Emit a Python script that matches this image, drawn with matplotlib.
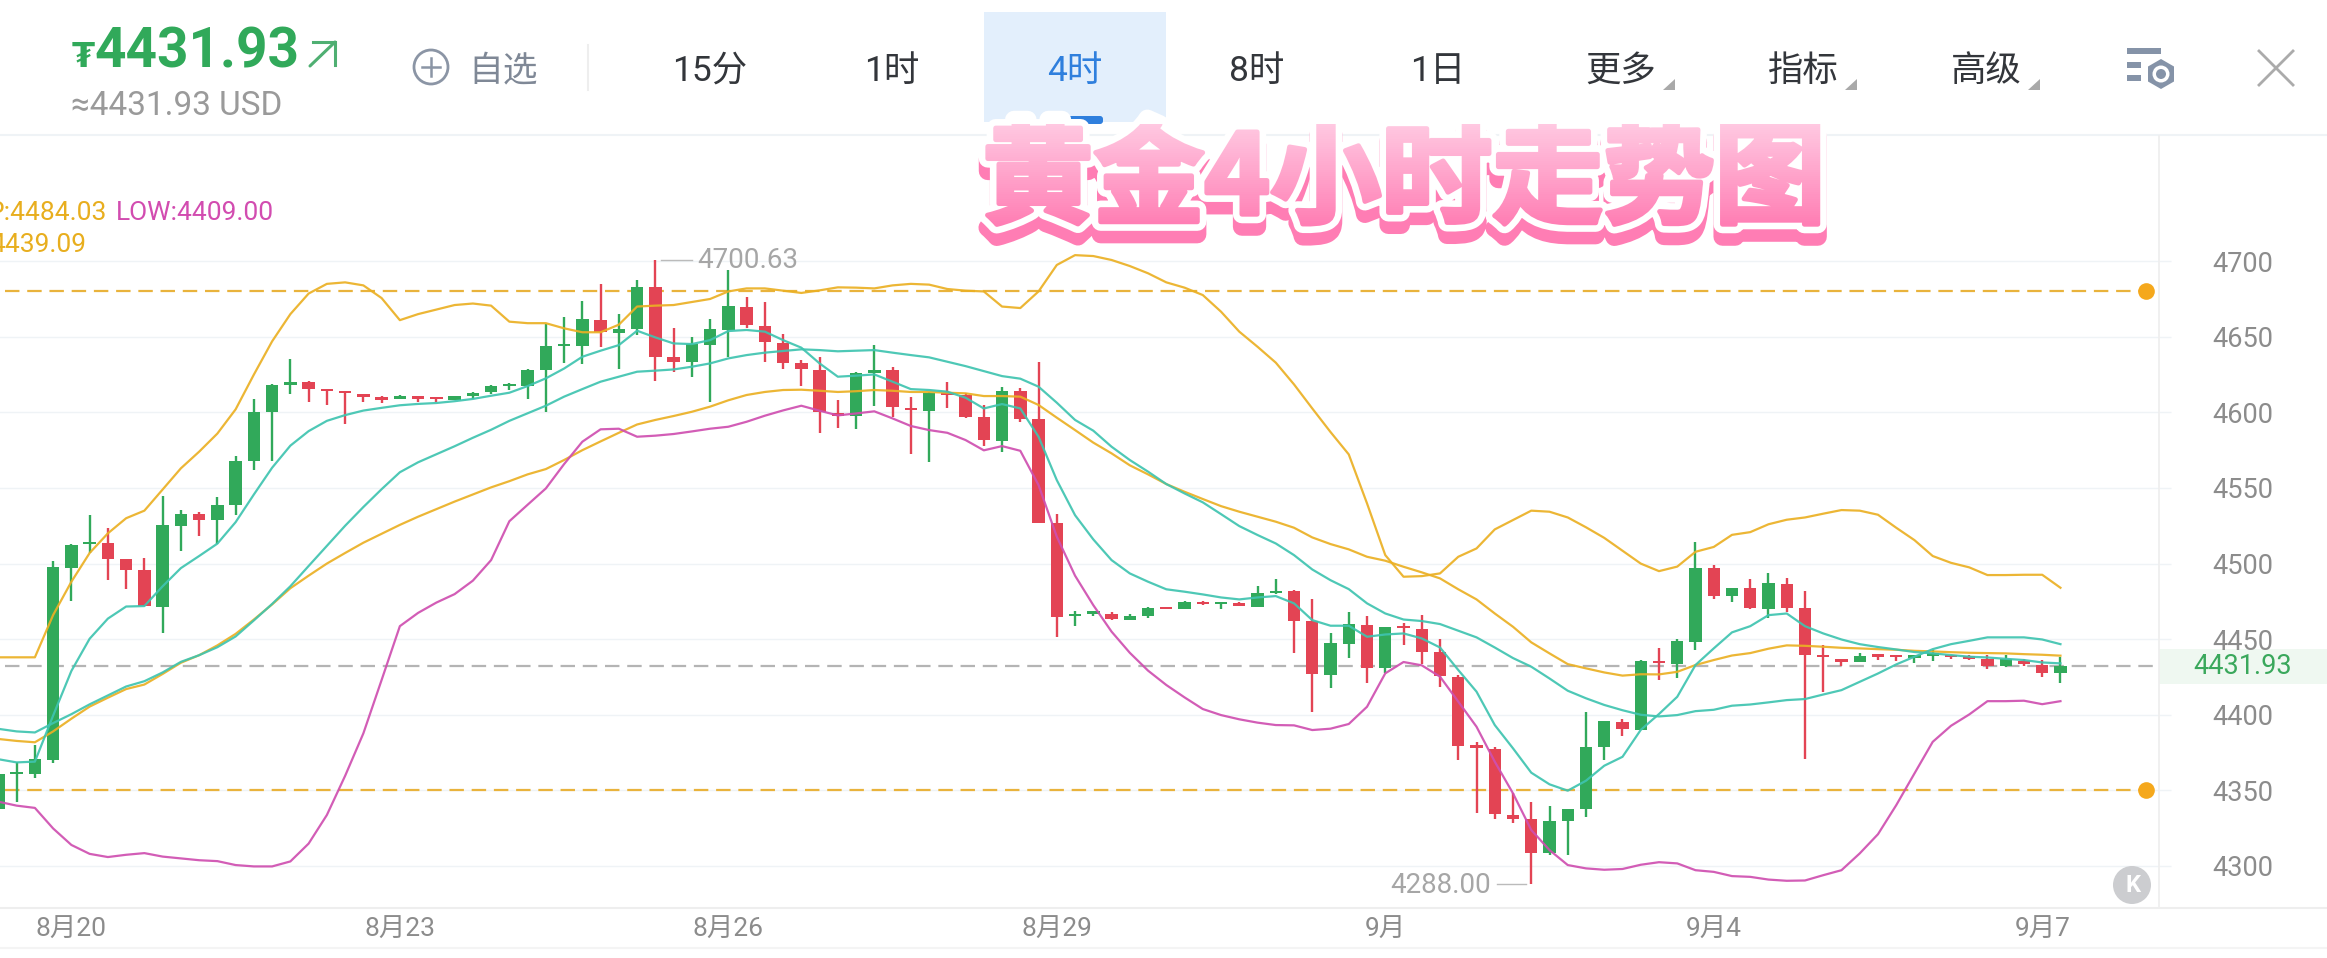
import numpy as np
import matplotlib
matplotlib.use('Agg')
import matplotlib.pyplot as plt
import matplotlib.patheffects as pe
from matplotlib.patches import Circle, Polygon, Rectangle, RegularPolygon, FancyBboxPatch
from matplotlib.transforms import Bbox

plt.rcParams['font.family'] = ['Roboto', 'Noto Sans CJK SC', 'DejaVu Sans']

# 4h candles
opens = [4338, 4360.8, 4361, 4370, 4497, 4513, 4513.8, 4503, 4495.8, 4471.6,
         4525, 4532.7, 4529, 4538.6, 4567.8, 4600, 4618, 4620, 4615, 4613.6,
         4612, 4609, 4609, 4609.3, 4609, 4608.3, 4610.6, 4613.6, 4617.5, 4617.4,
         4628, 4643.9, 4644, 4661, 4652.7, 4655, 4682.7, 4636.4, 4633, 4644.8,
         4654.5, 4670, 4657.3, 4646, 4632.4, 4628.2, 4599.3, 4597.6, 4625.8, 4628,
         4603, 4601, 4613, 4611.5, 4597, 4581.3, 4614, 4595.4, 4527, 4465,
         4466.8, 4466.9, 4463, 4465.3, 4470.4, 4470, 4474, 4473.3, 4473.3, 4471.5,
         4480.3, 4481.9, 4461.8, 4426.5, 4446.8, 4459.4, 4430.7, 4457.6, 4456.7, 4441.3,
         4425.2, 4378.9, 4377.6, 4333.7, 4330.8, 4308.3, 4329.7, 4337.4, 4378.4, 4395.4,
         4389.9, 4435.3, 4433.5, 4448.3, 4496.8, 4478.5, 4483.6, 4469.9, 4486.7, 4470.3,
         4439.2, 4437, 4435, 4438.8, 4438.4, 4437.7, 4439, 4438.4, 4437.9, 4436.6,
         4432.4, 4435.7, 4433.1, 4427.8]
closes = [4361, 4361.4, 4370.6, 4497.5, 4512.6, 4514, 4503, 4496, 4472, 4525.6,
          4533, 4529, 4538.6, 4567.8, 4600.3, 4618, 4620.4, 4615.7, 4614, 4612.7,
          4610, 4608.5, 4610, 4609, 4608.6, 4610.6, 4613, 4617.4, 4618, 4627.8,
          4644, 4644.3, 4661.5, 4653.4, 4655, 4683, 4636.8, 4633, 4645, 4655,
          4670.3, 4657.6, 4646.7, 4632.9, 4628.9, 4600.4, 4597.4, 4626.2, 4628, 4603.8,
          4601.5, 4613, 4611.5, 4597, 4581.7, 4614.3, 4595.6, 4527, 4464.6, 4465.6,
          4467.3, 4463.3, 4465.3, 4470.6, 4470, 4474.4, 4473.3, 4474, 4472, 4480.3,
          4482, 4462.2, 4426.7, 4447.2, 4459.8, 4430.7, 4457.8, 4457.2, 4441.5, 4425.6,
          4379.3, 4378.2, 4334.3, 4331.3, 4308.8, 4329.9, 4337.7, 4378.4, 4395.6, 4390.6,
          4435.7, 4434, 4448.7, 4497, 4478.7, 4483.8, 4470.3, 4486.9, 4470.3, 4439.5,
          4437.9, 4435, 4439, 4438.4, 4437.9, 4438, 4439.5, 4437.9, 4437, 4432.4,
          4436.6, 4433.5, 4427.8, 4431.93]
highs = [4361.5, 4369, 4379.7, 4502, 4512.8, 4532, 4523.5, 4503.2, 4503.7, 4544.8,
         4535.6, 4534, 4544, 4571, 4609, 4619, 4635.4, 4621, 4615.2, 4613.8,
         4612.2, 4610.6, 4611.5, 4611, 4610, 4611, 4613.5, 4618, 4619.5, 4628.7,
         4658.4, 4662.8, 4673.9, 4684.7, 4665, 4687.5, 4700.63, 4656, 4649.6, 4661.5,
         4694, 4676.5, 4673, 4652, 4634.6, 4636.4, 4608, 4627, 4644.5, 4629.8,
         4610, 4613.7, 4620.3, 4613, 4605, 4616.5, 4616.3, 4633, 4532.7, 4468.8,
         4468, 4467.7, 4466.9, 4471, 4471.3, 4475, 4475, 4474.2, 4474.4, 4485,
         4489.6, 4482.2, 4476.6, 4453.9, 4467.7, 4465.3, 4458, 4460.5, 4465.8, 4450.1,
         4426, 4382.2, 4378.9, 4348.5, 4342.5, 4339.9, 4338, 4401.6, 4396, 4397.2,
         4436.5, 4444.3, 4449.8, 4514.4, 4498.8, 4484, 4490, 4493.7, 4490.2, 4482,
         4446, 4437.2, 4440.6, 4439, 4438.6, 4439.5, 4442.8, 4439.5, 4439.5, 4439.5,
         4439.5, 4436.6, 4436.2, 4438]
lows = [4336, 4342, 4358.5, 4368, 4475, 4507, 4489, 4483, 4471.8, 4454,
        4508, 4518.5, 4513, 4532, 4562, 4568, 4612.4, 4607, 4605, 4592,
        4607, 4606, 4608.8, 4607, 4607, 4608, 4609, 4612, 4614.5, 4609,
        4600, 4632.9, 4632, 4643.4, 4629, 4651, 4621, 4627, 4623.6, 4607,
        4636.4, 4656, 4633.5, 4628.4, 4617.6, 4586.5, 4589.4, 4588.8, 4604.4, 4596.7,
        4572.2, 4567.4, 4603, 4596.5, 4577.7, 4574, 4593.8, 4526.6, 4451.6, 4459,
        4465, 4463, 4463, 4463.8, 4470, 4470, 4472.6, 4470, 4471.7, 4471,
        4480, 4440.6, 4401.6, 4417.9, 4437.8, 4421.2, 4427.4, 4446.1, 4433.6, 4418.6,
        4370.1, 4335.2, 4330.8, 4328.2, 4288.0, 4307.2, 4307, 4332.6, 4370.1, 4386,
        4389.9, 4423, 4424, 4442.8, 4476.3, 4474.7, 4469.9, 4463.7, 4468.1, 4370.5,
        4415.2, 4432, 4435, 4436, 4435.7, 4434.4, 4435.7, 4436.6, 4436, 4430.6,
        4431.7, 4432, 4425.1, 4420.7]

# bands and averages, one value per candle
gold_upper = [4438, 4438, 4438, 4466, 4488, 4507, 4520, 4530, 4535, 4549,
              4563, 4574, 4586, 4602, 4625, 4647, 4665, 4678.6, 4685, 4686,
              4684, 4675.6, 4661, 4665, 4668, 4671, 4672, 4670.6, 4660, 4659,
              4659, 4655.6, 4653, 4653, 4658, 4670, 4670.6, 4671, 4673, 4675,
              4680, 4682, 4682, 4680.5, 4679, 4680.7, 4682.7, 4682.5, 4682, 4684,
              4685, 4684.5, 4681.6, 4680.5, 4680, 4670, 4669, 4680, 4697.5, 4704,
              4703.4, 4700.8, 4696.8, 4692, 4686, 4682.5, 4677.6, 4666.6, 4653.4, 4643.4,
              4632.9, 4618.5, 4602.6, 4587, 4572.2, 4539.8, 4505.6, 4491.3, 4491.7, 4493.5,
              4504.5, 4510, 4522.6, 4528.8, 4535, 4534.3, 4530.5, 4524, 4517, 4508.5,
              4500, 4495, 4498, 4507.8, 4511, 4519, 4520.8, 4526, 4529, 4530.5,
              4533, 4535.4, 4535, 4532.3, 4523.7, 4515.5, 4505, 4500.5, 4497.5, 4492.4,
              4492.4, 4492.6, 4492.6, 4484]
gold_slow = [4384, 4382.7, 4381.8, 4389, 4397.4, 4405.4, 4411.3, 4417, 4420, 4427,
             4434.4, 4439.4, 4445.9, 4453.5, 4463, 4473, 4483.7, 4492, 4500, 4507,
             4513.8, 4519.7, 4525.6, 4531, 4536, 4541, 4545.7, 4550.4, 4554.5, 4559,
             4562.5, 4568.5, 4575, 4580.8, 4586.5, 4592, 4595, 4597.6, 4600.4, 4603.8,
             4608, 4611.5, 4613.5, 4614.8, 4615, 4614.3, 4613.5, 4614, 4614.8, 4614.3,
             4613.5, 4613.5, 4613, 4612.6, 4610.8, 4610.8, 4610.4, 4604.9, 4596.5, 4588.3,
             4580, 4572.9, 4565, 4559, 4552.6, 4547.5, 4542.7, 4538, 4534.3, 4531,
             4527.7, 4523.7, 4517.3, 4512.9, 4509.4, 4504.5, 4501.9, 4497.9, 4494.2, 4490.2,
             4483, 4476.3, 4467, 4458.2, 4447.9, 4440.6, 4433.5, 4430.7, 4428, 4425.9,
             4426.8, 4426.7, 4428.4, 4432.9, 4436.2, 4439.2, 4440.8, 4443.7, 4445.9, 4445.6,
             4445, 4444.3, 4443.9, 4443.4, 4443, 4442.3, 4441.9, 4441.4, 4441, 4440.8,
             4440.6, 4440.1, 4439.7, 4439.09]
teal_slow = [4390.7, 4389, 4388.3, 4394.5, 4400.4, 4406.9, 4412.8, 4418.7, 4422.2, 4428,
             4435, 4439.4, 4444.7, 4451.8, 4462.4, 4473.3, 4485, 4498.4, 4511.7, 4525,
             4537.4, 4549.2, 4560.4, 4567, 4572.3, 4577.6, 4583.2, 4588.5, 4594.4, 4599.4,
             4604.4, 4610.4, 4615.4, 4620.3, 4623.6, 4626.9, 4627.6, 4628.4, 4630.2, 4632.4,
             4635.7, 4637.9, 4639.5, 4640.6, 4641.7, 4641.2, 4640.4, 4640.8, 4641.2, 4639.5,
             4637.9, 4636.4, 4633.5, 4630.6, 4627.3, 4624, 4622.3, 4617, 4606.4, 4595,
             4587.9, 4577.3, 4568.5, 4560.8, 4552.6, 4546.4, 4540.5, 4532.7, 4524.8, 4518.9,
             4513.3, 4505.6, 4496.1, 4489, 4483.1, 4473.7, 4467, 4463, 4462, 4460,
             4455.6, 4451.2, 4444.5, 4437.5, 4431.8, 4424, 4415.9, 4410.9, 4406.5, 4403,
             4400, 4398.9, 4399.8, 4402.4, 4403.3, 4406, 4406.8, 4408.2, 4409.7, 4410.4,
             4413.4, 4416.3, 4421.8, 4427.3, 4433.3, 4438.4, 4443.4, 4446.7, 4448.9, 4451.2,
             4451.2, 4451.2, 4449.8, 4446.7]
teal_fast = [4370.6, 4368.5, 4369, 4399.5, 4429, 4450.3, 4463.6, 4471.6, 4471.9, 4485,
             4497, 4505, 4513.2, 4527.4, 4545.7, 4563.4, 4578, 4587.6, 4594.4, 4598.2,
             4601.2, 4603, 4604.7, 4605.6, 4606.2, 4607.4, 4608.9, 4611, 4613, 4617.4,
             4622.5, 4629, 4636.8, 4640.8, 4644.5, 4654, 4649.6, 4645.6, 4645.2, 4647.8,
             4653.8, 4654.5, 4653.4, 4647.8, 4642.8, 4632.4, 4623.6, 4624.3, 4625.1, 4620.3,
             4615.4, 4614.8, 4613.7, 4609.7, 4602.6, 4605.5, 4602.6, 4583.9, 4555.2, 4532,
             4516, 4502.3, 4493.5, 4488, 4483, 4481.4, 4479.6, 4477.6, 4476.3, 4477.6,
             4478.5, 4473.7, 4462.6, 4458.9, 4458.9, 4451.6, 4453.1, 4453.8, 4450.5, 4444.5,
             4429.6, 4415.3, 4393.2, 4377.8, 4361.7, 4354, 4349.8, 4356.4, 4366.3, 4372.2,
             4390, 4400.5, 4411.9, 4432.9, 4443.9, 4454.5, 4458.6, 4465.9, 4467, 4458.6,
             4453.8, 4449.8, 4446.7, 4444.8, 4443.2, 4441.5, 4440.6, 4439.5, 4438.4, 4437.9,
             4437, 4436.2, 4434.6, 4434]
magenta_low = [4342.5, 4339.9, 4338.4, 4324.8, 4313.9, 4308, 4305.9, 4307.4, 4308.5, 4306.2,
               4305, 4303.8, 4303.2, 4300.6, 4299.7, 4299.7, 4303, 4314.8, 4333.7, 4359.6,
               4387.7, 4423, 4458.6, 4467.4, 4474.2, 4479.8, 4488.7, 4502.3, 4528, 4538.9,
               4549.7, 4565.8, 4580.6, 4588.8, 4589.2, 4583.9, 4584.6, 4585.7, 4587.4, 4589.2,
               4590.5, 4593.8, 4597.8, 4601.3, 4604.4, 4601.1, 4598, 4599.3, 4600.7, 4596,
               4591, 4588.3, 4586.5, 4581.7, 4574.9, 4577.7, 4574.6, 4551.9, 4517.8, 4492,
               4472.5, 4455, 4441, 4429.2, 4419.7, 4411.5, 4403.8, 4399.8, 4397, 4394.8,
               4393.2, 4393, 4389.9, 4390.8, 4393.9, 4405.3, 4427.4, 4434.9, 4432.7, 4425.2,
               4408.7, 4392.1, 4369, 4348, 4323.8, 4310.5, 4300.6, 4298.4, 4297.5, 4298,
               4300.8, 4302.5, 4301.7, 4297.2, 4296.1, 4293.3, 4292.8, 4291, 4290.2, 4290.4,
               4293.9, 4297.2, 4308.3, 4321, 4340.2, 4361.2, 4382.1, 4392.7, 4400.2, 4409,
               4409, 4409.3, 4407, 4409]

price_ticks = [4300, 4350, 4400, 4450, 4500, 4550, 4600, 4650, 4700]
date_pos = [4, 22, 40, 58, 76, 94, 112]
date_labels = ['8月20', '8月23', '8月26', '8月29', '9月', '9月4', '9月7']
level_lines = [4680, 4350]
last_price = 4431.93
max_idx, max_price = 36, 4700.63
min_idx, min_price = 84, 4288.00

period_labels = ['15分', '1时', '4时', '8时', '1日', '更多', '指标', '高级']
period_x = [710, 892, 1075, 1257, 1438, 1621, 1803, 1986]

GREEN = '#31A95A'
RED = '#E34454'
GOLD = '#EBB024'
TEAL = '#3FC4B0'
MAGENTA = '#CF4FB0'
GRID = '#EFF3F6'
AXIS = '#8C8C8C'


class GradientFill(pe.AbstractPathEffect):
    """fill glyphs in thin horizontal strips, top colour to bottom colour"""

    def __init__(self, top, bottom, y0, y1, fatten=0, bands=56):
        super().__init__()
        self.top = np.array(matplotlib.colors.to_rgb(top))
        self.bottom = np.array(matplotlib.colors.to_rgb(bottom))
        self.y0, self.y1, self.fatten, self.bands = y0, y1, fatten, bands

    def draw_path(self, renderer, gc, tpath, affine, rgbFace=None):
        edges = np.linspace(self.y0, self.y1, self.bands + 1)
        for i in range(self.bands):
            col = tuple(self.bottom + (self.top - self.bottom) * i / (self.bands - 1))
            gc0 = renderer.new_gc()
            gc0.copy_properties(gc)
            gc0.set_clip_rectangle(Bbox([[0, edges[i]], [3000, edges[i + 1]]]))
            gc0.set_foreground(col)
            gc0.set_linewidth(self.fatten)
            gc0.set_joinstyle('round')
            renderer.draw_path(gc0, tpath, affine, col)
            gc0.restore()


W, H = 2327, 958
fig = plt.figure(figsize=(W / 100, H / 100), dpi=100, facecolor='white')

# page layer in pixel units, for the app toolbar
bg = fig.add_axes([0, 0, 1, 1], zorder=0)
bg.set_xlim(0, W)
bg.set_ylim(H, 0)
bg.axis('off')

# price header
bg.text(72, 57, '₮', color=GREEN, fontsize=24, fontweight='bold', va='center', ha='left',
        family=['DejaVu Sans'])
bg.text(94, 52, '4431.93', color=GREEN, fontsize=39.5, fontweight='bold', va='center', ha='left')
bg.plot([310, 335], [66, 42], color='#4FAF72', lw=2.2, solid_capstyle='round')
bg.plot([313, 335, 335], [42, 42, 65], color='#4FAF72', lw=2.2, solid_joinstyle='miter')
bg.text(71, 106, '≈4431.93 USD', color='#9A9A9A', fontsize=24, va='center', ha='left')

# add to watchlist
bg.add_patch(Circle((431, 67), 17, fc='none', ec='#8B95A5', lw=2))
bg.plot([422, 440], [67, 67], color='#8B95A5', lw=1.8)
bg.plot([431, 431], [58, 76], color='#8B95A5', lw=1.8)
bg.text(503, 71, '自选', color='#7F8896', fontsize=25, va='center', ha='center')
bg.plot([588, 588], [45, 90], color='#EEEEEE', lw=1.5)

# period tabs
bg.add_patch(Rectangle((984, 12), 182, 110, fc='#E3EFFC', ec='none'))
bg.add_patch(FancyBboxPatch((1067, 116), 36, 8, boxstyle='round,pad=0,rounding_size=3',
                            fc='#2F7FDD', ec='none'))
for label, x in zip(period_labels, period_x):
    col = '#2F7FDD' if label == '4时' else '#33363B'
    bg.text(x, 71, label, color=col, fontsize=25.5, va='center', ha='center')
    if label in ('更多', '指标', '高级'):
        bg.add_patch(Polygon([(x + 54, 79), (x + 42, 90), (x + 54, 90)], fc='#A9A9A9', ec='none'))

# settings icon and close
icon = '#8593A8'
bg.add_patch(Rectangle((2127, 48), 34, 6, fc=icon, ec='none'))
bg.add_patch(Rectangle((2127, 62), 14, 6, fc=icon, ec='none'))
bg.add_patch(Rectangle((2127, 75), 14, 6, fc=icon, ec='none'))
bg.add_patch(RegularPolygon((2161, 74), 6, radius=15, fc=icon, ec='none'))
bg.add_patch(Circle((2161, 74), 8.5, fc='white', ec='none'))
bg.add_patch(Circle((2161, 74), 5, fc=icon, ec='none'))
bg.plot([2259, 2293], [51, 85], color='#ABABAB', lw=2)
bg.plot([2259, 2293], [85, 51], color='#ABABAB', lw=2)

# frame lines outside the chart
bg.plot([0, W], [135, 135], color=GRID, lw=1.5)
bg.plot([0, W], [908, 908], color='#EEEEEE', lw=1.5)
bg.plot([0, W], [948, 948], color='#F4F4F4', lw=1.5)
bg.add_patch(Rectangle((2159, 649), W - 2159, 35, fc='#EFF8F1', ec='none'))

# chart
left, right, top, bottom = 0, 2159, 136, 908
ax = fig.add_axes([left / W, (H - bottom) / H, (right - left) / W, (bottom - top) / H], zorder=1)
ax.patch.set_visible(False)
ax.set_xlim(0.088, 118.4)
ax.set_ylim(4272.2, 4782.8)

idx = np.arange(len(opens))
opens = np.array(opens)
closes = np.array(closes)
highs = np.array(highs)
lows = np.array(lows)
colors = [GREEN if c >= o else RED for o, c in zip(opens, closes)]

ax.set_yticks(price_ticks)
ax.set_yticklabels([str(p) for p in price_ticks])
ax.yaxis.tick_right()
ax.tick_params(axis='y', length=8.6, width=1, color=GRID, pad=30, labelsize=19.5, labelcolor=AXIS)
ax.set_xticks(date_pos)
ax.set_xticklabels(date_labels)
ax.tick_params(axis='x', length=0, pad=7, labelsize=19, labelcolor=AXIS)
ax.grid(axis='y', color=GRID, lw=1)
ax.set_axisbelow(True)
for s in ['top', 'left', 'bottom']:
    ax.spines[s].set_visible(False)
ax.spines['right'].set_color('#EEEEEE')
ax.spines['right'].set_linewidth(1.2)

for lvl in level_lines:
    ax.plot([0.36, 117.3], [lvl, lvl], color='#E9B33C', lw=1.6, dashes=(6.5, 3.5), zorder=2)
    ax.plot([117.7], [lvl], marker='o', ms=12, color='#F5A81C', mew=0, zorder=2)
ax.plot([0.36, 118.4], [last_price, last_price], color='#B4B4B4', lw=1.6, dashes=(6.5, 3.5), zorder=2)

ax.vlines(idx, lows, highs, colors=colors, lw=1.7, zorder=3)
body_low = np.minimum(opens, closes)
body_h = np.maximum(np.abs(closes - opens), 1.6)
ax.bar(idx, body_h, bottom=body_low, width=0.68, color=colors, lw=0, zorder=3)

for series, col in [(gold_upper, GOLD), (gold_slow, GOLD), (teal_slow, TEAL),
                    (teal_fast, TEAL), (magenta_low, MAGENTA)]:
    ax.plot(idx, series, color=col, lw=1.6, alpha=0.92, zorder=4, solid_joinstyle='round')

# extreme labels
ax.plot([max_idx + 0.3, max_idx + 2], [max_price, max_price], color='#BBBBBB', lw=1, zorder=5)
ax.text(max_idx + 2.3, max_price, f'{max_price:.2f}', color='#A6A6A6', fontsize=20, va='center', ha='left', zorder=5)
ax.plot([min_idx - 1.9, min_idx - 0.3], [min_price, min_price], color='#BBBBBB', lw=1, zorder=5)
ax.text(min_idx - 2.2, min_price - 1, f'{min_price:.2f}', color='#A6A6A6', fontsize=20, va='center', ha='right', zorder=5)

# last price tag and K button
ax.text(1.0 + 84 / 2159, last_price, f'{last_price:.2f}', color='#3AA85C', fontsize=19.5,
        va='center', ha='center', transform=ax.get_yaxis_transform(), clip_on=False, zorder=5)
ax.add_patch(Circle((2132, 885), 19, fc='#CCCDD0', ec='none', transform=bg.transData, zorder=5))
ax.text(2133, 885, 'K', color='white', fontsize=17, fontweight='bold', va='center', ha='center',
        transform=bg.transData, zorder=6)

# indicator legend, only the part the app leaves on screen
ax.text(107, 213, 'P:4484.03', color='#E8AE1E', fontsize=19, va='center', ha='right',
        transform=bg.transData, clip_on=False, zorder=6)
ax.text(116, 213, 'LOW:4409.00', color='#D24CB0', fontsize=19, va='center', ha='left',
        transform=bg.transData, clip_on=False, zorder=6)
ax.text(86, 245, '4439.09', color='#E8AE1E', fontsize=19, va='center', ha='right',
        transform=bg.transData, clip_on=False, zorder=6)

# pink sticker title
title = fig.text(1404 / W, 1 - 182 / H, '黄金4小时走势图', fontsize=80, fontweight='bold', color='#FF7DB4',
                 ha='center', va='center', zorder=10, family=['Noto Sans CJK SC', 'DejaVu Sans'])
title.set_path_effects([
    pe.Stroke(linewidth=13, foreground='#FF7DB4', offset=(0, -9), joinstyle='round'),
    pe.Stroke(linewidth=13, foreground='white', joinstyle='round'),
    GradientFill('#FFC8E1', '#FF73AD', H - 240, H - 124, fatten=3.5),
])

fig.savefig('out.png', dpi=100, facecolor='white')
